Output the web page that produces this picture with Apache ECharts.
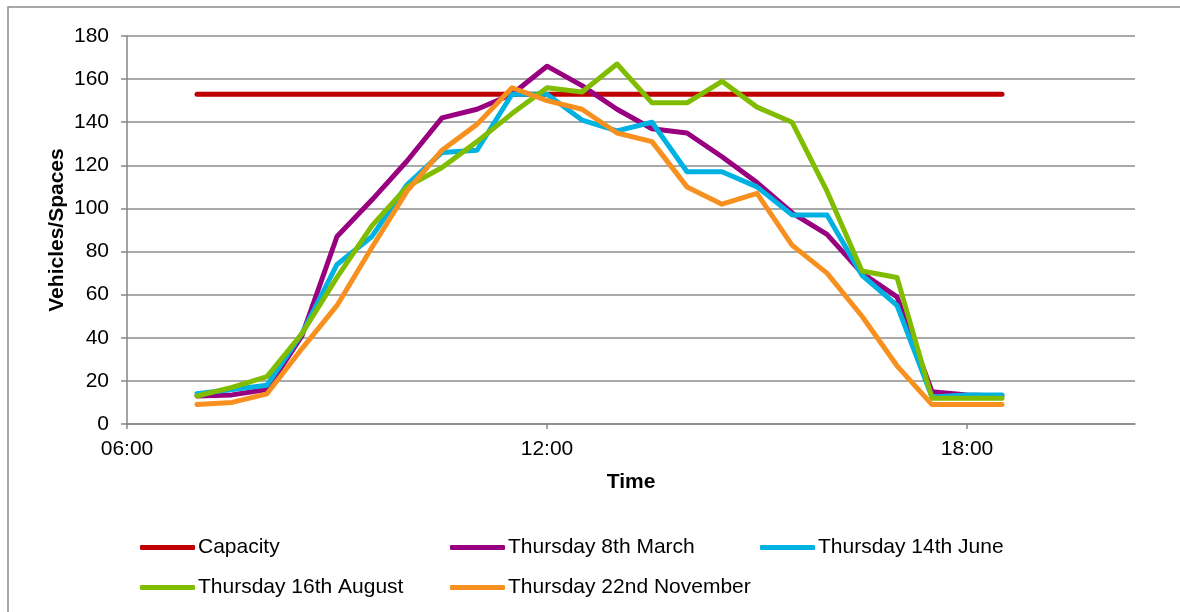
<!DOCTYPE html>
<html>
<head>
<meta charset="utf-8">
<script src="https://cdn.jsdelivr.net/npm/echarts@6/dist/echarts.min.js"></script>
<style>
html,body{margin:0;padding:0;background:#fff;}
#chart{width:1180px;height:612px;}
</style>
</head>
<body>
<div id="chart"></div>
<script>
const times = ["07:00","07:30","08:00","08:30","09:00","09:30","10:00","10:30","11:00","11:30","12:00","12:30",
               "13:00","13:30","14:00","14:30","15:00","15:30","16:00","16:30","17:00","17:30","18:00","18:30"];
const xTickLabels = ["06:00","12:00","18:00"];
const seriesNames = ["Capacity","Thursday 8th March","Thursday 14th June","Thursday 16th August","Thursday 22nd November"];
const capacity = [153,153,153,153,153,153,153,153,153,153,153,153,153,153,153,153,153,153,153,153,153,153,153,153];
const march    = [13,13.5,16,41,87,104,122,142,146,153,166,157,146,137,135,124,112,98,88,70,59,15,13.5,13];
const june     = [14,16,18,42,74,87,111,126,127,153,153,141,136,140,117,117,110,97,97,69,55,12.5,13.5,13.5];
const august   = [13,17,22,42,68,92,110,119,131,144,156,154,167,149,149,159,147,140,108,71,68,12,12,12];
const november = [9,10,14,35,55,82,108,127,139,156,150,146,135,131,110,102,107,83,70,50,27,9,9,9];
const colors = ["#C00000","#99007F","#00B2E2","#80BC00","#F7901E"];

function toHours(t){const p=t.split(":");return +p[0]+ +p[1]/60;}
function pairs(vals){return times.map((t,i)=>[toHours(t),vals[i]]);}
const allVals=[capacity,march,june,august,november];
const FONT="Liberation Sans, Arial, sans-serif";
const FS=21;

const chart = echarts.init(document.getElementById('chart'));
const legendPos=[[140,537],[450,537],[760,537],[140,577],[450,577]];
chart.setOption({
  animation:false,
  backgroundColor:'#fff',
  textStyle:{fontFamily:FONT},
  grid:{left:127,top:36,right:45,bottom:188,containLabel:false},
  xAxis:{
    type:'value',min:6,max:20.4,interval:6,
    name:'Time',nameLocation:'middle',nameGap:48,nameMoveOverlap:false,
    nameTextStyle:{fontSize:FS,fontWeight:'bold',color:'#000',fontFamily:FONT},
    axisLine:{show:true,onZero:false,lineStyle:{color:'#868686',width:1.5}},
    axisTick:{show:true,length:5,lineStyle:{color:'#868686',width:1.5}},
    axisLabel:{fontSize:FS,color:'#000',margin:15,fontFamily:FONT,
      showMaxLabel:false,
      formatter:function(v){const idx=Math.round((v-6)/6);return xTickLabels[idx]!==undefined?xTickLabels[idx]:'';}},
    splitLine:{show:false}
  },
  yAxis:{
    type:'value',min:0,max:180,interval:20,
    name:'Vehicles/Spaces',nameLocation:'middle',nameGap:59,nameRotate:90,nameMoveOverlap:false,
    nameTextStyle:{fontSize:FS,fontWeight:'bold',color:'#000',fontFamily:FONT},
    axisLine:{show:true,lineStyle:{color:'#868686',width:1.5}},
    axisTick:{show:true,length:6,lineStyle:{color:'#868686',width:1.5}},
    axisLabel:{fontSize:FS,color:'#000',margin:18,fontFamily:FONT},
    splitLine:{show:true,lineStyle:{color:'#8c8c8c',width:1.5}}
  },
  legend:seriesNames.map((n,i)=>({
    data:[n],left:legendPos[i][0],top:legendPos[i][1],
    icon:'roundRect',itemWidth:55,itemHeight:5,padding:0,
    textStyle:{fontSize:FS,color:'#000',fontFamily:FONT,padding:[0,0,0,-2]}
  })),
  graphic:[{type:'rect',shape:{x:8,y:7,width:1200,height:700},
    style:{fill:'none',stroke:'#8c8c8c',lineWidth:1.5},silent:true}],
  series:seriesNames.map((n,i)=>({
    name:n,type:'line',data:pairs(allVals[i]),showSymbol:false,symbol:'none',
    color:colors[i],
    lineStyle:{width:5,color:colors[i],cap:'round',join:'round'}
  }))
});
</script>
</body>
</html>
